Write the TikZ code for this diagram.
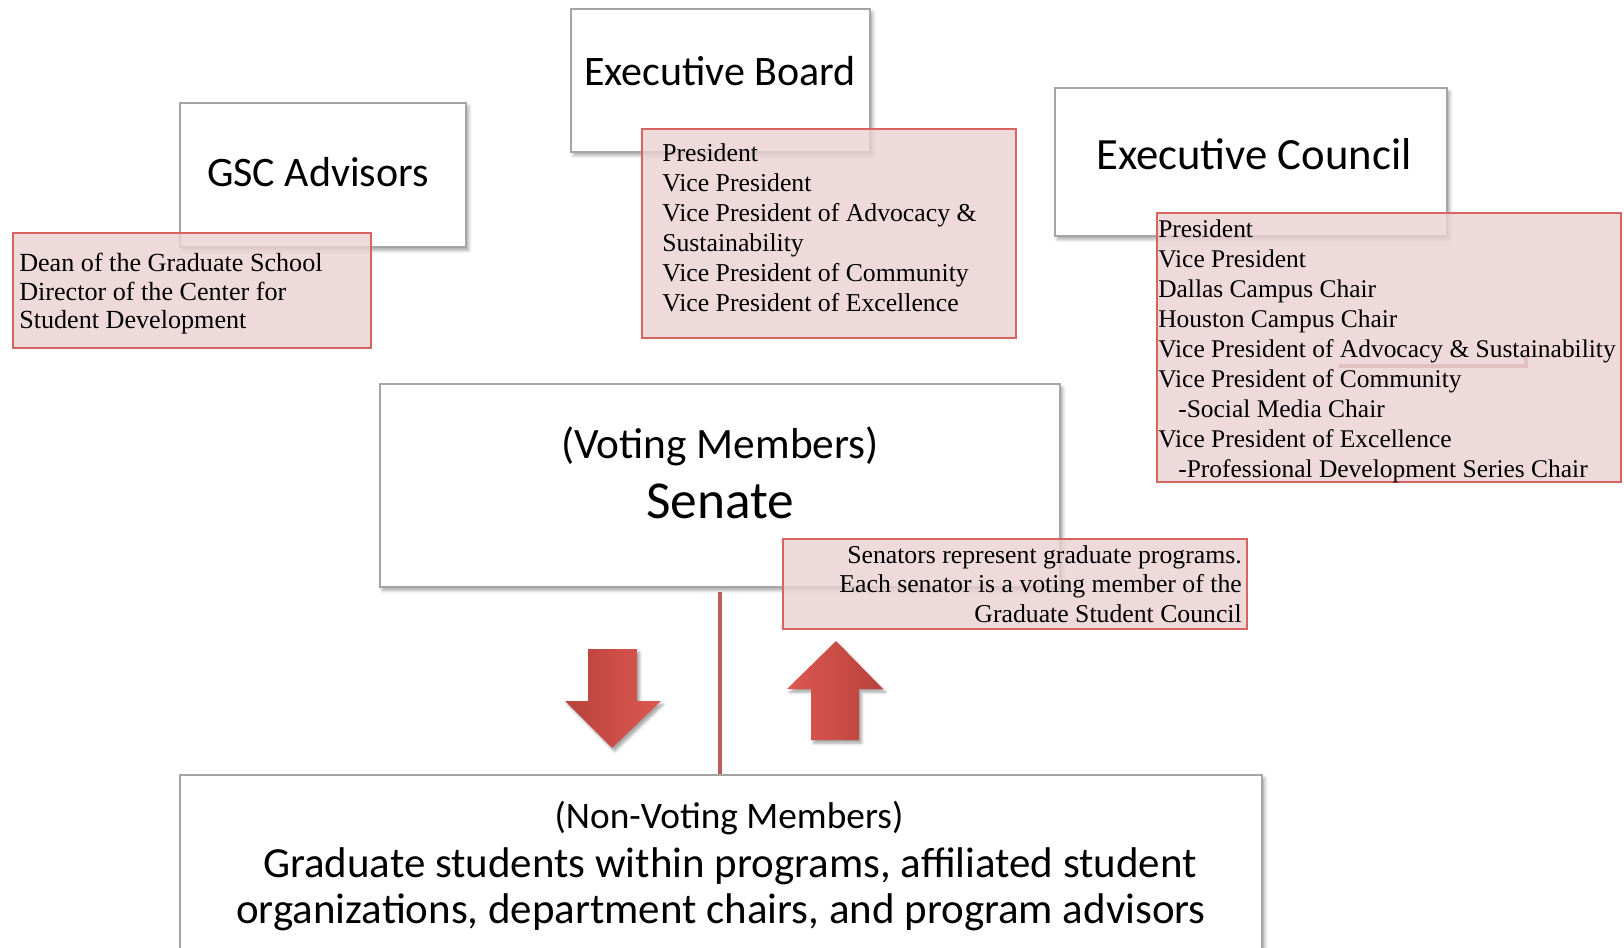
\documentclass[tikz,border=0pt]{standalone}
\usepackage{fontspec}
\newfontfamily\titlefont{Carlito}
\newfontfamily\listfont{Liberation Serif}
\usetikzlibrary{fit,shadows.blur}
\definecolor{boxgray}{RGB}{165,165,165}
\definecolor{pinkbase}{RGB}{234,208,210}
\definecolor{pinkborder}{RGB}{214,100,97}
\definecolor{pinkghost}{RGB}{226,192,194}
\definecolor{arrowdark}{RGB}{184,66,60}
\definecolor{arrowlight}{RGB}{220,88,80}
\definecolor{redline}{RGB}{192,92,90}
\begin{document}
\begin{tikzpicture}[x=0.75pt,y=-0.75pt,
  whitebox/.style={draw=boxgray, line width=1.1pt, fill=white, inner sep=0pt,
    blur shadow={shadow xshift=2pt, shadow yshift=-2.5pt, shadow blur radius=2.5pt, shadow opacity=35}},
  pinkbox/.style={draw=pinkborder, line width=1.5pt, fill=pinkbase, fill opacity=0.8, inner sep=0pt},
  titletext/.style={font=\titlefont\fontsize{31.5}{36}\selectfont, inner sep=0pt, anchor=base},
  listtext/.style={font=\listfont\fontsize{19.3}{22.5}\selectfont, inner sep=0pt, align=left, anchor=base west},
  bigarrow/.style={blur shadow={shadow xshift=2pt, shadow yshift=-2.5pt, shadow blur radius=2pt, shadow opacity=35}},
  connector/.style={draw=redline, line width=3.6pt}
]
\useasboundingbox (0,0) rectangle (1624,948);

% white boxes
\node[whitebox, fit={(180,103) (466,247)}] (gsc) {};
\node[whitebox, fit={(571,9) (870,152)}] (eb) {};
\node[whitebox, fit={(1055,88) (1447,236)}] (ec) {};
\node[whitebox, fit={(380,384) (1060,587)}] (senate) {};
\node[whitebox, fit={(180,775) (1262,975)}] (bottom) {};

% pink boxes
\node[pinkbox, fit={(13,233) (371,348)}] (gscp) {};
\node[pinkbox, fit={(642,129) (1016,338)}] (ebp) {};
\node[pinkbox, fit={(1157,213) (1621,482)}] (ecp) {};
\node[pinkbox, fit={(783,539) (1247,629)}] (senp) {};
\coordinate (ghostA) at (1339,366);
\coordinate (ghostB) at (1526,366);
\coordinate (ghostC) at (1526,357);
\draw[pinkghost, line width=3pt] (ghostA) -- (ghostB) -- (ghostC);

% titles
\node[titletext] (gsct) at (318,187) {GSC Advisors};
\node[titletext] (ebt) at (720,86) {Executive Board};
\node[titletext, font=\titlefont\fontsize{33.5}{38}\selectfont] (ect) at (1254,170) {Executive Council};
\node[titletext, font=\titlefont\fontsize{32.5}{36}\selectfont] (sent1) at (720,458) {(Voting Members)};
\node[titletext, font=\titlefont\fontsize{40}{44}\selectfont] (sent2) at (720,518) {Senate};
\node[titletext, font=\titlefont\fontsize{28}{32}\selectfont] (bott1) at (729,828) {(Non-Voting Members)};
\node[titletext, font=\titlefont\fontsize{32.2}{36}\selectfont] (bott2) at (730,877) {Graduate students within programs, affiliated student};
\node[titletext, font=\titlefont\fontsize{32.2}{36}\selectfont] (bott3) at (721,923) {organizations, department chairs, and program advisors};

% lists (base anchor = baseline of the last line)
\node[listtext, font=\listfont\fontsize{19.6}{21.4}\selectfont] (gscl) at (19,329)
  {Dean of the Graduate School\\Director of the Center for\\Student Development};
\node[listtext] (ebl) at (662,312)
  {President\\Vice President\\Vice President of Advocacy \&\\Sustainability\\Vice President of Community\\Vice President of Excellence};
\node[listtext, font=\listfont\fontsize{19.1}{22.5}\selectfont] (ecl) at (1158,477)
  {President\\Vice President\\Dallas Campus Chair\\Houston Campus Chair\\Vice President of Advocacy \& Sustainability\\Vice President of Community\\\hspace*{15pt}-Social Media Chair\\Vice President of Excellence\\\hspace*{15pt}-Professional Development Series Chair};
\node[listtext, align=right, anchor=base east, font=\listfont\fontsize{19.3}{21.8}\selectfont] (senl) at (1242,622)
  {Senators represent graduate programs.\\Each senator is a voting member of the\\Graduate Student Council};

% connector
\draw[connector, shorten <=3pt] (senate.south) -- (senate.south |- bottom.north);

% arrows
\path[bigarrow, left color=arrowdark, right color=arrowlight]
  (588,649) -- (637,649) -- (637,701) -- (661,701) -- (612,748) -- (565,701) -- (588,701) -- cycle;
\path[bigarrow, left color=arrowlight, right color=arrowdark]
  (836,641) -- (883,689) -- (859,689) -- (859,740) -- (811,740) -- (811,689) -- (787,689) -- cycle;
\end{tikzpicture}
\end{document}
